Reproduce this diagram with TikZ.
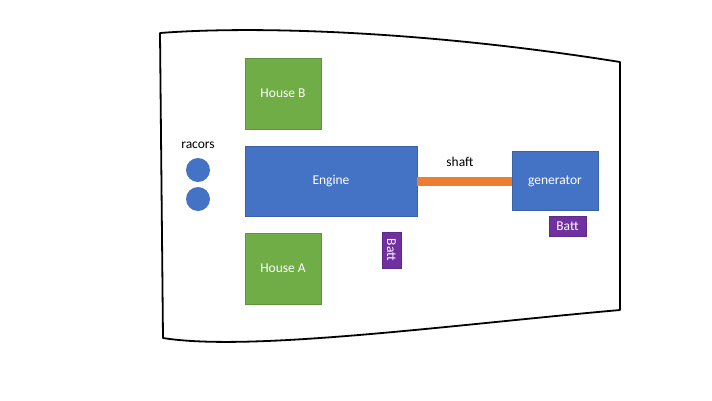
\documentclass[tikz,border=0pt]{standalone}
\usepackage{fontspec}
\setmainfont{Carlito}
\definecolor{cgreen}{HTML}{70AD47}
\definecolor{cblue}{HTML}{4472C4}
\definecolor{corange}{HTML}{ED7D31}
\definecolor{cpurple}{HTML}{7030A0}
\begin{document}
\begin{tikzpicture}[x=1pt,y=-1pt,
  box/.style={draw=#1!85!black,line width=0.6pt,fill=#1,text=white,inner sep=0pt,font=\fontsize{13.5}{15}\selectfont},
  lbl/.style={text=black,font=\fontsize{13.5}{15}\selectfont,inner sep=0pt},
  racor/.style={circle,fill=cblue,minimum size=24pt,inner sep=0pt}]
\useasboundingbox (0,0) rectangle (712,400);
% hull outline
\draw[line width=1.8pt,line join=round] (160,33) .. controls (250,26) and (420,30) .. (620,62) -- (620,310)
  .. controls (450,325) and (250,352) .. (163,338) -- cycle;
% boxes
\node[box=cgreen,minimum width=76pt,minimum height=71pt] (houseB) at (283,93.5) {House B};
\node[box=cblue,minimum width=172pt,minimum height=70pt] (engine) at (331,181) {Engine};
\node[box=cgreen,minimum width=76pt,minimum height=71pt] (houseA) at (283,268.5) {House A};
\node[box=cblue,minimum width=86pt,minimum height=59pt] (gen) at (555,181) {generator};
\node[box=cpurple,minimum width=37pt,minimum height=20pt] (batt2) at (567.5,226) {Batt};
\node[box=cpurple,minimum width=36pt,minimum height=19pt,rotate=-90] (batt1) at (391.5,250) {Batt};
% shaft
\draw[corange,line width=9pt] (engine.east) -- (gen.west);
\node[lbl] (shaftlbl) at (460,162) {shaft};
% racors
\node[racor] (r1) at (198,170) {};
\node[racor] (r2) at (198,199) {};
\node[lbl] (racorslbl) at (198,145) {racors};
\end{tikzpicture}
\end{document}
